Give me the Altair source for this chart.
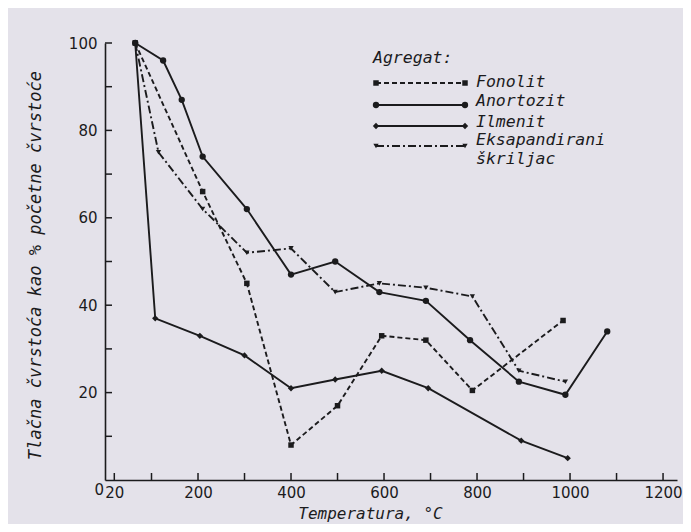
import altair as alt
import pandas as pd

# ---- data ----
fonolit_t = [65, 210, 305, 400, 500, 595, 690, 790, 985]
fonolit_v = [100, 66, 45, 8, 17, 33, 32, 20.5, 36.5]

anortozit_t = [65, 125, 165, 210, 305, 400, 495, 590, 690, 785, 890, 990, 1080]
anortozit_v = [100, 96, 87, 74, 62, 47, 50, 43, 41, 32, 22.5, 19.5, 34]

ilmenit_t = [65, 108, 204, 300, 400, 495, 595, 695, 895, 995]
ilmenit_v = [100, 37, 33, 28.5, 21, 23, 25, 21, 9, 5]

eksa_t = [65, 115, 210, 305, 400, 495, 590, 690, 790, 890, 990]
eksa_v = [100, 75, 62, 52, 53, 43, 45, 44, 42, 25, 22.5]

x_label_values = [20, 200, 400, 600, 800, 1000, 1200]
x_tick_values = [20, 100, 200, 300, 400, 500, 600, 700, 800, 900, 1000, 1100, 1200]
y_label_values = [20, 40, 60, 80, 100]
y_tick_values = [10, 20, 30, 40, 50, 60, 70, 80, 90, 100]

legend_title = "Agregat:"
legend_labels = ["Fonolit", "Anortozit", "Ilmenit", "Eksapandirani"]
legend_extra = "škriljac"

# ---- styling ----
INK = "#1b1b1d"
BG = "#e4e2ea"
W, H = 572, 437
MONO = "DejaVu Sans Mono"
SANS = "DejaVu Sans"

xscale = alt.Scale(domain=[0, 1230], nice=False, zero=False)
yscale = alt.Scale(domain=[0, 100], nice=False, zero=False)

xaxis = alt.Axis(values=x_label_values, format="d", tickSize=0, labelPadding=5, labelFont=SANS,
                 labelFontSize=15, labelColor=INK, domainColor=INK, domainWidth=1.6,
                 grid=False, labelFlush=False, labelOverlap=False,
                 title="Temperatura, °C", titleFont=MONO, titleFontStyle="italic",
                 titleFontWeight="normal", titleFontSize=16, titleColor=INK,
                 titleX=265, titleY=33, titleAlign="center", titleBaseline="middle")
yaxis = alt.Axis(values=y_label_values, format="d", tickSize=0, labelPadding=8, labelFont=SANS,
                 labelFontSize=15, labelColor=INK, domainColor=INK, domainWidth=1.6,
                 grid=False, labelFlush=False, labelOverlap=False,
                 title="Tlačna čvrstoća kao % početne čvrstoće", titleFont=MONO,
                 titleFontStyle="italic", titleFontWeight="normal", titleFontSize=17,
                 titleColor=INK, titleX=-70, titleY=222, titleAngle=270,
                 titleAlign="center", titleBaseline="middle")

series = [
    (fonolit_t, fonolit_v, [5, 3], "square", 30),
    (anortozit_t, anortozit_v, None, "circle", 40),
    (ilmenit_t, ilmenit_v, None, "diamond", 40),
    (eksa_t, eksa_v, [8, 3, 2, 3], "triangle-down", 28),
]

layers = []
for t, v, dash, shape, size in series:
    df = pd.DataFrame({"t": t, "v": v})
    line_kw = dict(color=INK, strokeWidth=1.9)
    if dash:
        line_kw["strokeDash"] = dash
    enc = dict(x=alt.X("t:Q", scale=xscale, axis=xaxis),
               y=alt.Y("v:Q", scale=yscale, axis=yaxis))
    layers.append(alt.Chart(df).mark_line(**line_kw).encode(**enc))
    layers.append(alt.Chart(df).mark_point(shape=shape, filled=True, color=INK,
                                           size=size, opacity=1).encode(**enc))

# inward ticks
xt = pd.DataFrame({"t": x_tick_values})
layers.append(alt.Chart(xt).mark_rule(color=INK, strokeWidth=1.5).encode(
    x=alt.X("t:Q", scale=xscale, axis=xaxis), y=alt.value(H), y2=alt.value(H - 7)))
yt = pd.DataFrame({"v": y_tick_values})
layers.append(alt.Chart(yt).mark_rule(color=INK, strokeWidth=1.5).encode(
    y=alt.Y("v:Q", scale=yscale, axis=yaxis), x=alt.value(0), x2=alt.value(7)))

dummy = pd.DataFrame({"a": [0]})
# corner "0" label
layers.append(alt.Chart(dummy).mark_text(text="0", font=SANS, fontSize=15, color=INK,
                                         align="right", baseline="middle").encode(
    x=alt.value(-1), y=alt.value(H + 10)))

# legend
LX0, LX1, TX = 271, 360, 371
LFS = 16.5
layers.append(alt.Chart(dummy).mark_text(text=legend_title, font=MONO, fontStyle="italic",
                                         fontSize=LFS, color=INK, align="left",
                                         baseline="alphabetic").encode(
    x=alt.value(268), y=alt.value(20)))
leg_line_y = [40, 62, 83, 103]
leg_text_y = [43.5, 62.5, 83.5, 102]
for (t, v, dash, shape, size), ly, ty, lab in zip(series, leg_line_y, leg_text_y, legend_labels):
    rk = dict(color=INK, strokeWidth=1.9)
    if dash:
        rk["strokeDash"] = dash
    layers.append(alt.Chart(dummy).mark_rule(**rk).encode(
        x=alt.value(LX0), x2=alt.value(LX1), y=alt.value(ly)))
    for px in (LX0, LX1):
        layers.append(alt.Chart(dummy).mark_point(shape=shape, filled=True, color=INK,
                                                  size=size, opacity=1).encode(
            x=alt.value(px), y=alt.value(ly)))
    layers.append(alt.Chart(dummy).mark_text(text=lab, font=MONO, fontStyle="italic",
                                             fontSize=LFS, color=INK, align="left",
                                             baseline="alphabetic").encode(
        x=alt.value(TX), y=alt.value(ty)))
layers.append(alt.Chart(dummy).mark_text(text=legend_extra, font=MONO, fontStyle="italic",
                                         fontSize=LFS, color=INK, align="left",
                                         baseline="alphabetic").encode(
    x=alt.value(TX), y=alt.value(120.5)))

chart = alt.layer(*layers).properties(
    width=W, height=H,
    autosize=alt.AutoSizeParams(type="none"),
    padding={"left": 97, "top": 35, "right": 6, "bottom": 44},
    background=BG,
).configure_view(stroke=None)

chart.save("out.html", embed_options={"renderer": "svg", "actions": False})
